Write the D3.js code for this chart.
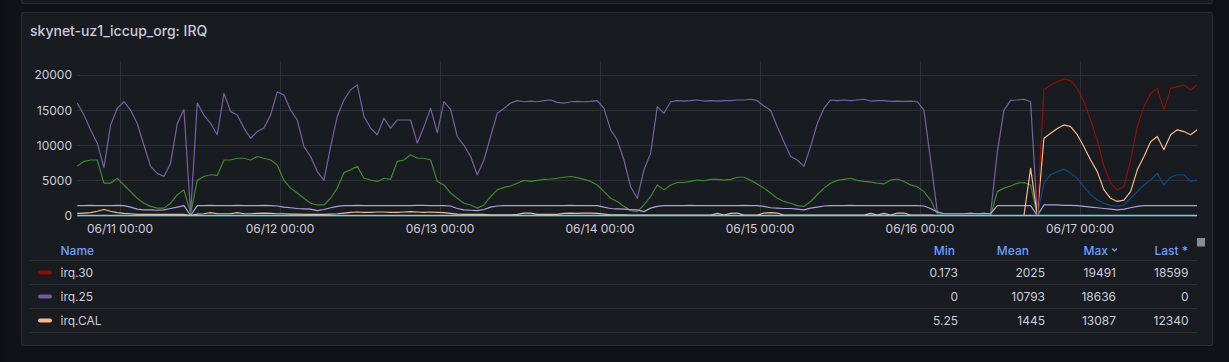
<!DOCTYPE html>
<html>
<head>
<meta charset="utf-8">
<script src="https://cdn.jsdelivr.net/npm/d3@7/dist/d3.min.js"></script>
<style>
  html, body { margin: 0; padding: 0; background: #111217; }
  svg { display: block; font-family: Inter, "Noto Sans", sans-serif; }
</style>
</head>
<body>
<svg id="chart" width="1229" height="362"></svg>
<script>
// hourly samples, first sample at 06/10 17:40
const startTime = new Date(2024, 5, 10, 17, 40);
const rangeStart = new Date(2024, 5, 10, 17, 37, 30);
const rangeEnd = new Date(2024, 5, 17, 17, 37, 30);

const yTicks = [0, 5000, 10000, 15000, 20000];

const irq25 = [
  16000, 14300, 12200, 10300, 6800, 12900, 15250, 16200, 15000, 13100,
  10000, 7000, 6000, 5550, 7450, 13100, 15100, 300, 16000, 14300,
  13100, 11500, 17400, 14800, 14300, 12450, 11000, 11950, 12450, 14300,
  17600, 17150, 15000, 13600, 9800, 8400, 6250, 5000, 9800, 14100,
  16450, 17900, 18600, 14100, 12450, 11500, 13850, 12450, 13600, 13600,
  13600, 10300, 12650, 15250, 11800, 16200, 15100, 11250, 10000, 8400,
  5800, 7900, 11250, 14550, 15250, 16000, 16350, 16200, 16300, 16200,
  16350, 16450, 16100, 16000, 16200, 16250, 16200, 16250, 16350, 15250,
  12200, 10750, 7900, 4100, 2450, 6500, 8850, 15500, 14550, 16200,
  16350, 16300, 16350, 16450, 16300, 16350, 16300, 16350, 16350, 16450,
  16450, 16550, 16350, 15600, 15000, 12650, 10500, 8400, 7900, 7000,
  9800, 13100, 15250, 16450, 16350, 16450, 16350, 16450, 16550, 16300,
  16350, 16350, 16250, 16300, 16250, 16300, 16200, 15000, 7900, 550,
  250, 250, 250, 250, 350, 250, 300, 250, 9000, 15000,
  16400, 16450, 16550, 16200, 0, 0, 0, 0, 0, 0,
  0, 0, 0, 0, 0, 0, 0, 0, 0, 0,
  0, 0, 0, 0, 0, 0, 0, 0, 0
];

const irqGreen = [
  7050, 7700, 7900, 7900, 4600, 4600, 5300, 4350, 3400, 2450,
  1750, 1300, 1050, 1050, 1750, 2950, 3650, 300, 5000, 5550,
  5800, 5700, 7900, 7900, 8150, 8150, 7900, 8400, 8150, 7900,
  7200, 5000, 3900, 3200, 2450, 1750, 1500, 1500, 2450, 3900,
  6100, 6500, 7000, 5300, 5050, 4850, 5300, 5150, 7700, 7900,
  8650, 8150, 8150, 7900, 4850, 4350, 3200, 2450, 1750, 1500,
  1050, 1500, 2700, 3650, 4000, 4200, 4600, 5000, 4850, 5000,
  5150, 5200, 5300, 5450, 5550, 5400, 5150, 4850, 4350, 3400,
  2450, 2000, 1300, 700, 550, 1500, 2700, 4350, 3650, 4350,
  4700, 4700, 4850, 5050, 4950, 5150, 5150, 5050, 5150, 5450,
  5450, 5000, 4500, 3900, 3200, 2450, 2000, 1750, 1400, 1300,
  2000, 2950, 3900, 4600, 5000, 5150, 5300, 5000, 4850, 4750,
  4600, 4500, 5050, 5200, 4850, 4350, 4100, 3400, 2200, 250,
  0, 0, 0, 0, 0, 0, 0, 0, 3400, 3900,
  4200, 4600, 4700, 4350, 0
];

const irqLavender = [
  1400, 1400, 1450, 1400, 1400, 1400, 1450, 1400, 1200, 900,
  800, 800, 750, 800, 1000, 1200, 1400, 0, 1400, 1400,
  1450, 1400, 1400, 1400, 1450, 1400, 1400, 1400, 1450, 1400,
  1350, 1200, 1100, 1000, 950, 900, 700, 850, 1100, 1300,
  1400, 1400, 1450, 1400, 1400, 1400, 1400, 1400, 1400, 1400,
  1400, 1450, 1450, 1400, 1400, 1400, 1350, 1000, 800, 750,
  700, 850, 1200, 1350, 1400, 1400, 1400, 1400, 1400, 1400,
  1400, 1400, 1400, 1400, 1450, 1400, 1400, 1400, 1400, 1200,
  1000, 950, 900, 850, 800, 550, 1050, 1300, 1400, 1400,
  1400, 1400, 1450, 1400, 1400, 1400, 1400, 1400, 1400, 1400,
  1450, 1400, 1400, 1300, 1100, 1050, 1000, 1000, 900, 800,
  1050, 1200, 1350, 1400, 1400, 1400, 1450, 1400, 1400, 1400,
  1400, 1400, 1400, 1400, 1400, 1400, 1400, 1350, 1000, 500,
  250, 250, 250, 250, 300, 250, 300, 250, 1400, 1400,
  1400, 1400, 1400, 1400, 0, 1500, 1500, 1500, 1450, 1450,
  1400, 1300, 1200, 1100, 1000, 900, 800, 900, 1100, 1300,
  1400, 1400, 1400, 1400, 1400, 1400, 1400, 1400, 1400
];

const irqCAL = [
  300, 350, 400, 600, 850, 600, 400, 300, 250, 150,
  150, 150, 150, 150, 150, 150, 150, 0, 200, 250,
  400, 250, 250, 250, 400, 250, 250, 300, 350, 300,
  250, 250, 200, 200, 150, 150, 150, 150, 200, 250,
  350, 450, 500, 450, 450, 500, 500, 450, 450, 500,
  550, 500, 450, 500, 450, 400, 300, 200, 150, 150,
  150, 150, 100, 100, 100, 100, 150, 350, 350, 150,
  150, 150, 150, 300, 350, 300, 350, 350, 300, 200,
  100, 100, 100, 50, 50, 50, 50, 50, 50, 50,
  50, 50, 50, 50, 50, 50, 300, 50, 300, 350,
  50, 50, 50, 350, 400, 350, 50, 50, 50, 50,
  50, 50, 50, 50, 50, 50, 50, 50, 50, 300,
  50, 300, 50, 350, 350, 50, 50, 50, 50, 0,
  0, 0, 0, 0, 0, 0, 0, 0, 0, 0,
  0, 0, 0, 6700, 0, 11000, 11700, 12400, 12900, 12650,
  11500, 9800, 7900, 6250, 3650, 2450, 2000, 2200, 3400, 6500,
  8400, 10500, 11250, 9350, 11500, 12200, 11950, 11500, 12200
];

// these two start at hour 142
const irq30 = [
  0, 0, 0, 17900, 18600, 19050, 19450, 19200, 18100, 16200,
  13600, 10750, 7000, 4600, 3650, 4100, 7900, 12650, 15500, 17400,
  18100, 15000, 18100, 18350, 18600, 17900, 18600
];
const irqBlue = [
  0, 0, 0, 4600, 5800, 6250, 6600, 6000, 5300, 4100,
  2950, 2200, 1750, 1400, 1300, 1500, 2450, 3400, 4350, 5050,
  6000, 4350, 5450, 5800, 5800, 4850, 5050
];
// one sample per day
const irqCyan = [0, 0, 0, 0, 0, 0, 0, 0];

const legendNames = ['irq.30', 'irq.25', 'irq.CAL'];
const legendColors = ['#890f02', '#705da0', '#f9ba8f'];
const legendMin = ['0.173', '0', '5.25'];
const legendMean = ['2025', '10793', '1445'];
const legendMax = ['19491', '18636', '13087'];
const legendLast = ['18599', '0', '12340'];

const series = [
  { values: irq25, color: '#7461a8', start: 0, step: 1, w: 1.2 },
  { values: irqGreen, color: '#3f8a2f', start: 0, step: 1, w: 1.2 },
  { values: irqLavender, color: '#aea2e0', start: 0, step: 1, w: 1.2 },
  { values: irqBlue, color: '#0a4a8c', start: 142, step: 1, w: 1.2 },
  { values: irqCAL, color: '#f9ba8f', start: 0, step: 1, w: 1.2 },
  { values: irq30, color: '#8f1004', start: 142, step: 1, w: 1.2 },
  { values: irqCyan, color: '#6ed0e0', start: 0, step: 24, w: 1.6 }
];

const svg = d3.select('#chart');
const textColor = '#ccccdc';
const gridColor = '#2c2f35';

// upper panel edge and this panel
svg.append('rect').attr('x', 21.5).attr('y', -10).attr('width', 1191).attr('height', 13.5)
  .attr('rx', 2).attr('fill', '#181b1f').attr('stroke', '#2b2e34');
svg.append('rect').attr('x', 0).attr('y', 0).attr('width', 4).attr('height', 362).attr('fill', '#0e0f12');
svg.append('rect').attr('x', 21.5).attr('y', 12.5).attr('width', 1191).attr('height', 333)
  .attr('rx', 2).attr('fill', '#181b1f').attr('stroke', '#2b2e34');

svg.append('text').attr('x', 30).attr('y', 35.5)
  .attr('fill', textColor).attr('font-size', 14).attr('font-weight', 500)
  .text('skynet-uz1_iccup_org: IRQ');

const x = d3.scaleTime().domain([rangeStart, rangeEnd]).range([77, 1197]);
const y = d3.scaleLinear().domain([0, 22000]).range([215.5, 61]);

// grid
const days = x.ticks(d3.timeDay.every(1));
svg.append('g').selectAll('line').data(days).join('line')
  .attr('x1', d => Math.round(x(d)) + 0.5).attr('x2', d => Math.round(x(d)) + 0.5)
  .attr('y1', 61).attr('y2', 215.5)
  .attr('stroke', gridColor);
svg.append('g').selectAll('line').data(yTicks).join('line')
  .attr('x1', 77).attr('x2', 1197)
  .attr('y1', d => Math.round(y(d)) + 0.5).attr('y2', d => Math.round(y(d)) + 0.5)
  .attr('stroke', gridColor);

// axes
const yAxis = svg.append('g').attr('transform', 'translate(77,0)')
  .call(d3.axisLeft(y).tickValues(yTicks).tickSize(0).tickPadding(5).tickFormat(d3.format('d')));
const xAxis = svg.append('g').attr('transform', 'translate(0,216)')
  .call(d3.axisBottom(x).tickValues(days).tickSize(0).tickPadding(8).tickFormat(d3.timeFormat('%m/%d %H:%M')));
[yAxis, xAxis].forEach(a => {
  a.select('.domain').remove();
  a.selectAll('text').attr('fill', textColor).attr('font-size', 12)
    .attr('font-family', 'Inter, "Noto Sans", sans-serif');
});

// lines
svg.append('clipPath').attr('id', 'plotClip')
  .append('rect').attr('x', 77).attr('y', 55).attr('width', 1120).attr('height', 165);
const line = d3.line()
  .x(d => x(d.t))
  .y(d => y(d.v));
const plot = svg.append('g').attr('clip-path', 'url(#plotClip)');
series.forEach(s => {
  const pts = s.values.map((v, i) => ({
    t: new Date(startTime.getTime() + (s.start + i * s.step) * 3600000),
    v: v
  }));
  plot.append('path').datum(pts)
    .attr('fill', 'none')
    .attr('stroke', s.color)
    .attr('stroke-width', s.w)
    .attr('stroke-linejoin', 'round')
    .attr('d', line);
});

// legend table
const blue = '#6e9fff';
const head = svg.append('g').attr('font-size', 12).attr('font-weight', 500).attr('fill', blue);
head.append('text').attr('x', 60.5).attr('y', 254.5).text('Name');
head.append('text').attr('x', 955).attr('y', 254.5).attr('text-anchor', 'end').text('Min');
head.append('text').attr('x', 1029).attr('y', 254.5).attr('text-anchor', 'end').text('Mean');
head.append('text').attr('x', 1108).attr('y', 254.5).attr('text-anchor', 'end').text('Max');
head.append('text').attr('x', 1188).attr('y', 254.5).attr('text-anchor', 'end').text('Last *');
svg.append('path').attr('d', 'M1112,248.5 L1114.5,251 L1117,248.5')
  .attr('fill', 'none').attr('stroke', blue).attr('stroke-width', 1.1);

const rowLines = [0, 1, 2, 3];
svg.append('g').selectAll('line').data(rowLines).join('line')
  .attr('x1', 30).attr('x2', 1197)
  .attr('y1', d => 260.5 + d * 24).attr('y2', d => 260.5 + d * 24)
  .attr('stroke', '#2c2f35');

const rows = svg.append('g').selectAll('g').data(legendNames).join('g')
  .attr('transform', (d, i) => `translate(0,${272.5 + i * 24})`);
rows.append('rect').attr('x', 38).attr('y', -2).attr('width', 14).attr('height', 4).attr('rx', 2)
  .attr('fill', (d, i) => legendColors[i]);
rows.append('text').attr('x', 60.5).attr('y', 4.5).attr('font-size', 12).attr('fill', textColor).text(d => d);
const cols = [[legendMin, 958], [legendMean, 1045], [legendMax, 1116], [legendLast, 1188.5]];
cols.forEach(([arr, cx]) => {
  rows.append('text').attr('x', cx).attr('y', 4.5).attr('font-size', 12)
    .attr('text-anchor', 'end').attr('fill', textColor).text((d, i) => arr[i]);
});

// scrollbar thumb
svg.append('rect').attr('x', 1197).attr('y', 238).attr('width', 8).attr('height', 8.5).attr('fill', '#8a8a8f');
</script>
</body>
</html>
